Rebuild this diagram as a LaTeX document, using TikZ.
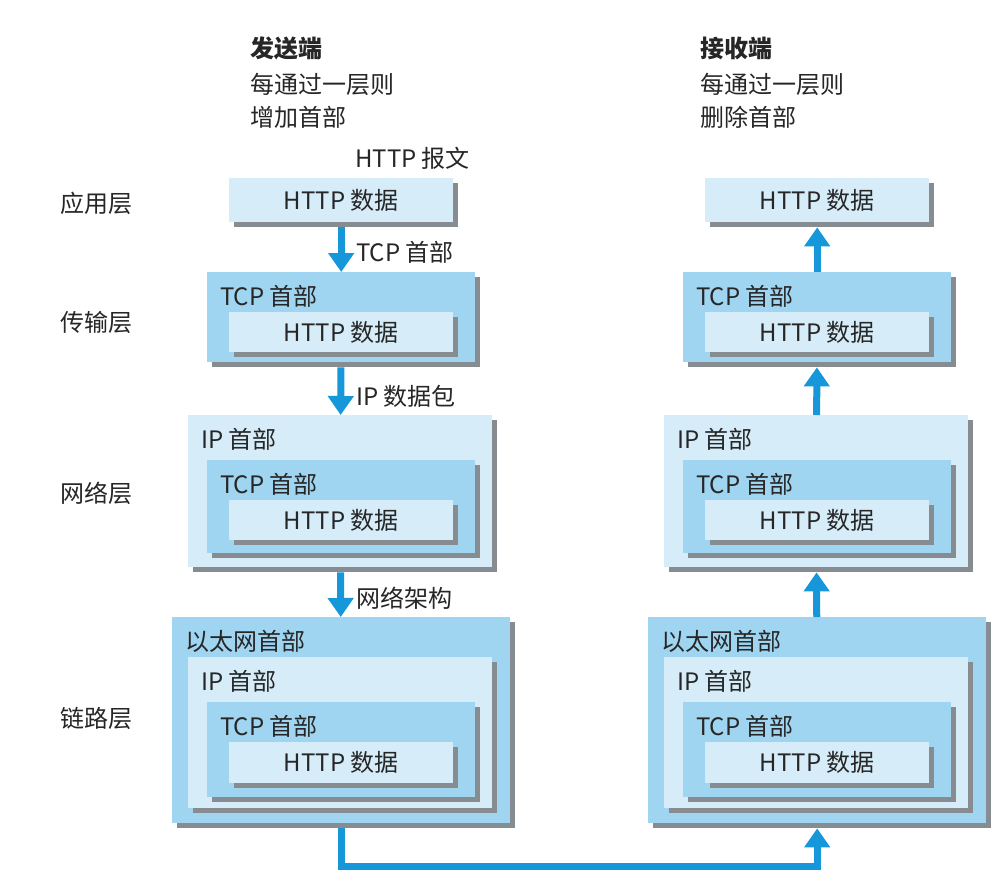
\documentclass[tikz,border=0pt]{standalone}
\usepackage{fontspec}
\setmainfont{Noto Sans CJK SC}
\usepackage{xcolor}
\usepackage{tikz}
\usetikzlibrary{arrows.meta, shadows}
\definecolor{paleblue}{HTML}{D6ECF8}
\definecolor{midblue}{HTML}{A0D5F1}
\definecolor{shadowgray}{HTML}{878C90}
\definecolor{arrowblue}{HTML}{1597DA}
\definecolor{inkgray}{HTML}{262626}

\begin{document}
\begin{tikzpicture}[x=1pt, y=-1pt,
  every node/.style={font=\fontsize{24}{28}\selectfont, text=inkgray},
  layer/.style={anchor=north west, inner sep=0pt, drop shadow={shadow xshift=5pt, shadow yshift=-5pt, fill=shadowgray, opacity=1}},
  pale/.style={layer, fill=paleblue},
  mid/.style={layer, fill=midblue},
  tag/.style={anchor=west, inner sep=0pt},
  arrow/.style={-{Triangle[width=25pt, length=19pt]}, line width=7pt, draw=arrowblue}
]
  \fill[white] (0,0) rectangle (1007,895);
  \useasboundingbox (0,0) rectangle (1007,895);

  % headings
  \node[tag, font=\fontsize{24}{28}\selectfont\bfseries] (sHead) at (250,48) {发送端};
  \node[tag] (sHead2) at (250,84) {每通过一层则};
  \node[tag] (sHead3) at (250,117) {增加首部};
  \node[tag, font=\fontsize{24}{28}\selectfont\bfseries] (rHead) at (700,48) {接收端};
  \node[tag] (rHead2) at (700,84) {每通过一层则};
  \node[tag] (rHead3) at (700,117) {删除首部};

  % layer names
  \node[tag] (appLayer) at (60,203) {应用层};
  \node[tag] (transLayer) at (60,322) {传输层};
  \node[tag] (netLayer) at (60,493) {网络层};
  \node[tag] (linkLayer) at (60,718) {链路层};

  % sender side
  \node[tag] (msg) at (355,158) {HTTP 报文};
  \node[pale, minimum width=224pt, minimum height=44pt] (sApp) at (229,178) {HTTP 数据};

  \node[mid, minimum width=268pt, minimum height=90pt] (sTrans) at (207,272) {};
  \node[tag] (sTransTcp) at (220,296) {TCP 首部};
  \node[pale, minimum width=224pt, minimum height=40pt] (sTransData) at (229,312) {HTTP 数据};

  \node[pale, minimum width=304pt, minimum height=152pt] (sNet) at (188,415) {};
  \node[tag] (sNetIp) at (201,439) {IP 首部};
  \node[mid, minimum width=268pt, minimum height=93pt] (sNetTcp) at (207,460) {};
  \node[tag] (sNetTcpLbl) at (220,484) {TCP 首部};
  \node[pale, minimum width=224pt, minimum height=40pt] (sNetData) at (229,500) {HTTP 数据};

  \node[mid, minimum width=338pt, minimum height=206pt] (sLink) at (172,617) {};
  \node[tag] (sLinkEth) at (185,641) {以太网首部};
  \node[pale, minimum width=304pt, minimum height=151pt] (sLinkIp) at (188,657) {};
  \node[tag] (sLinkIpLbl) at (201,681) {IP 首部};
  \node[mid, minimum width=268pt, minimum height=95pt] (sLinkTcp) at (207,702) {};
  \node[tag] (sLinkTcpLbl) at (220,726) {TCP 首部};
  \node[pale, minimum width=224pt, minimum height=41pt] (sLinkData) at (229,742) {HTTP 数据};

  % receiver side
  \node[pale, minimum width=224pt, minimum height=44pt] (rApp) at (705,178) {HTTP 数据};

  \node[mid, minimum width=268pt, minimum height=90pt] (rTrans) at (683,272) {};
  \node[tag] (rTransTcp) at (696,296) {TCP 首部};
  \node[pale, minimum width=224pt, minimum height=40pt] (rTransData) at (705,312) {HTTP 数据};

  \node[pale, minimum width=304pt, minimum height=152pt] (rNet) at (664,415) {};
  \node[tag] (rNetIp) at (677,439) {IP 首部};
  \node[mid, minimum width=268pt, minimum height=93pt] (rNetTcp) at (683,460) {};
  \node[tag] (rNetTcpLbl) at (696,484) {TCP 首部};
  \node[pale, minimum width=224pt, minimum height=40pt] (rNetData) at (705,500) {HTTP 数据};

  \node[mid, minimum width=338pt, minimum height=206pt] (rLink) at (648,617) {};
  \node[tag] (rLinkEth) at (661,641) {以太网首部};
  \node[pale, minimum width=304pt, minimum height=151pt] (rLinkIp) at (664,657) {};
  \node[tag] (rLinkIpLbl) at (677,681) {IP 首部};
  \node[mid, minimum width=268pt, minimum height=95pt] (rLinkTcp) at (683,702) {};
  \node[tag] (rLinkTcpLbl) at (696,726) {TCP 首部};
  \node[pale, minimum width=224pt, minimum height=41pt] (rLinkData) at (705,742) {HTTP 数据};

  % arrows
  \draw[arrow, shorten <=5pt] (sApp) -- (sTrans);
  \node[tag] (addTcp) at (356,252) {TCP 首部};
  \draw[arrow, shorten <=5pt] (sTrans) -- (sNet);
  \node[tag] (addIp) at (356,396) {IP 数据包};
  \draw[arrow, shorten <=5pt] (sNet) -- (sLink);
  \node[tag] (addEth) at (356,598) {网络架构};

  \draw[arrow, shorten >=5pt] (rTrans) -- (rApp);
  \draw[arrow, shorten >=5pt] (rNet) -- (rTrans);
  \draw[arrow, shorten >=5pt] (rLink) -- (rNet);

  \coordinate (wire) at (0,866);
  \draw[arrow, shorten <=5pt, shorten >=5pt] (sLink.south) -- (sLink.south |- wire) -| (rLink.south);
\end{tikzpicture}
\end{document}
